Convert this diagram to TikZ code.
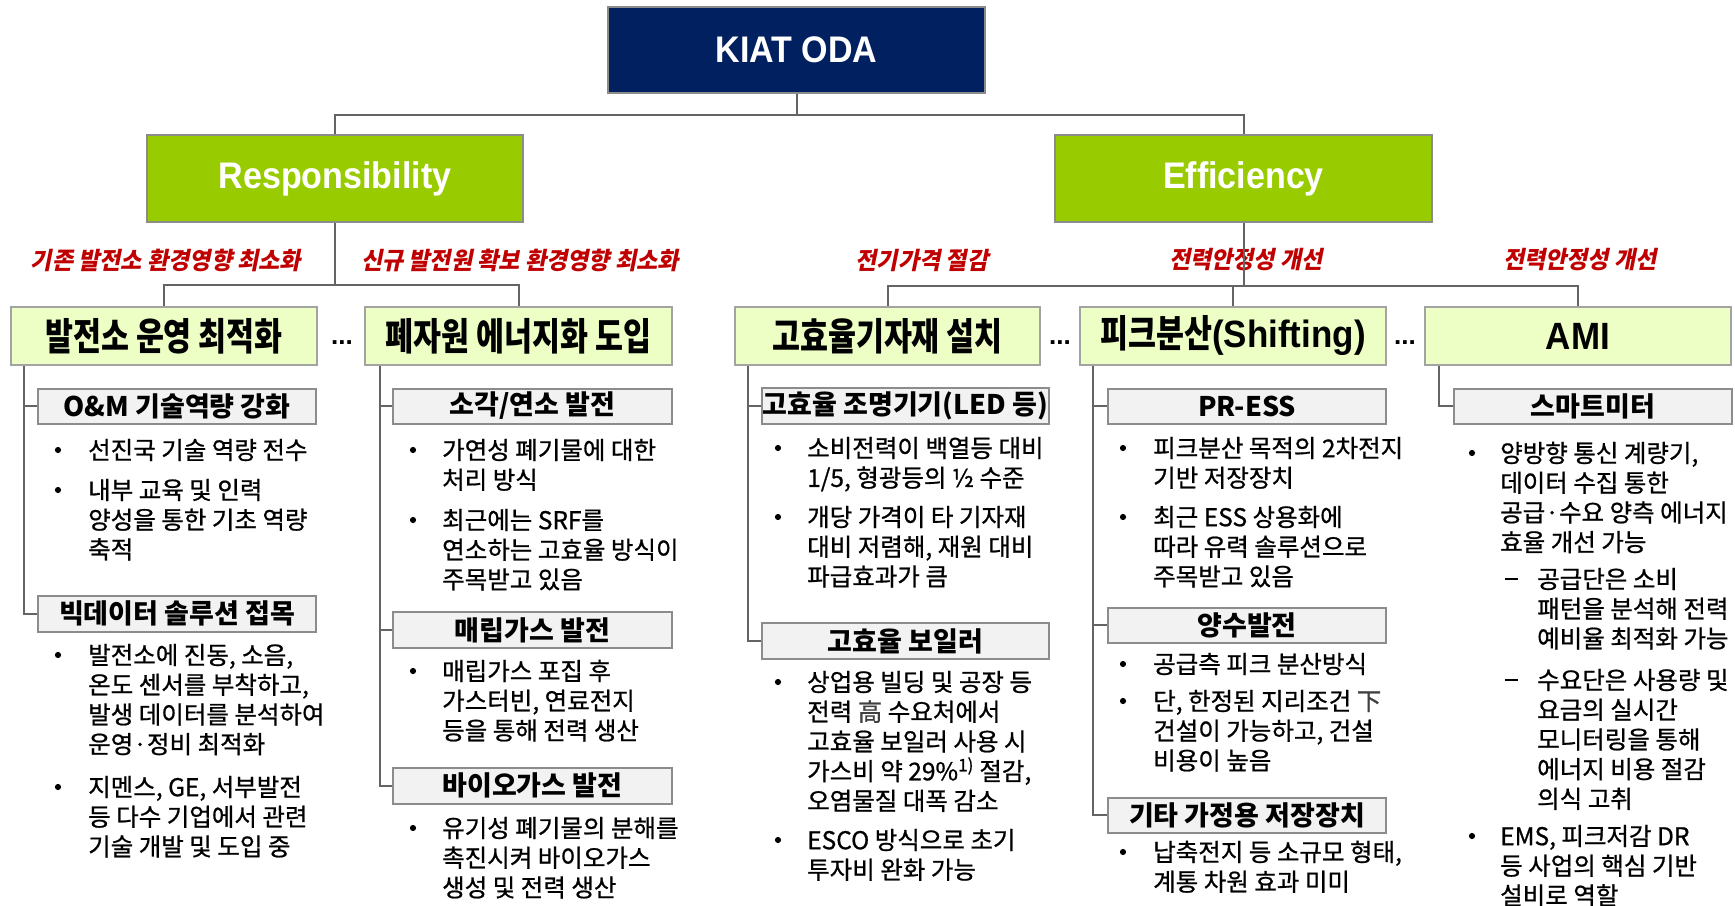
\documentclass[tikz,border=0pt]{standalone}
\usepackage{fontspec}
\setmainfont{Noto Sans CJK KR}
\newfontfamily\kr{Noto Sans CJK KR}
\newfontfamily\bodyfont[FakeBold=0.8]{Noto Sans CJK KR}
\newfontfamily\titlefont[FakeStretch=0.8]{Noto Sans CJK KR}
\newfontfamily\redfont[FakeSlant=0.2,FakeStretch=0.96]{Noto Sans CJK KR}
\newfontfamily\arialb{Liberation Sans}
\newfontfamily\arialc[FakeStretch=0.92]{Liberation Sans}
\usetikzlibrary{calc}
\definecolor{navy}{RGB}{0,32,96}
\definecolor{kgreen}{RGB}{153,204,0}
\definecolor{pale}{RGB}{238,255,198}
\definecolor{subfill}{RGB}{242,242,242}
\definecolor{edgegray}{RGB}{140,140,140}
\definecolor{linegray}{RGB}{100,100,100}
\definecolor{redc}{RGB}{192,0,0}
\newcommand\fs{\rule{0pt}{21pt}}
\newcommand\bitem[5]{\fill (#2,#4) circle (3.1pt);\node[btext] (#1) at (#3,#4-12) {\fs #5};}
\newcommand\ditem[5]{\draw[line width=1.4pt] (#2,#4) -- ++(13,0);\node[btext] (#1) at (#3,#4-12) {\fs #5};}
\tikzset{
  conn/.style={draw=linegray, line width=2pt},
  topbox/.style={draw=edgegray, line width=2pt, fill=navy, text=white, inner sep=0pt,
     font=\arialc\bfseries\fontsize{37}{40}\selectfont},
  greenbox/.style={draw=edgegray, line width=2pt, fill=kgreen, text=white, inner sep=0pt,
     font=\arialc\bfseries\fontsize{37}{40}\selectfont},
  lvbox/.style={draw=edgegray!80, line width=2pt, fill=pale, inner sep=0pt,
     font=\titlefont\bfseries\fontsize{38}{42}\selectfont},
  subbox/.style={draw=edgegray, line width=2pt, fill=subfill, inner sep=0pt,
     font=\kr\bfseries\fontsize{27}{30}\selectfont},
  btext/.style={anchor=north west, align=left, inner sep=0pt,
     font=\bodyfont\fontsize{24.5}{29.7}\selectfont},
  redlab/.style={inner sep=0pt, text=redc, font=\redfont\bfseries\fontsize{24}{28}\selectfont},
  dots/.style={inner sep=0pt, font=\arialb\bfseries\fontsize{26}{28}\selectfont},
}
\begin{document}
\begin{tikzpicture}[x=1pt,y=-1pt]
\useasboundingbox (0,0) rectangle (1735,905);
\fill[white] (0,0) rectangle (1735,905);

% top level
\node[topbox, minimum width=377pt, minimum height=86pt] (kiat) at (796.5,50) {KIAT ODA};
\node[greenbox, minimum width=376pt, minimum height=87pt] (resp) at (335,178.5) {Responsibility};
\node[greenbox, minimum width=377pt, minimum height=87pt] (eff) at (1243.5,178.5) {Efficiency};

% red labels
\node[redlab] (r1) at (166,260) {기존 발전소 환경영향 최소화};
\node[redlab] (r2) at (520,260) {신규 발전원 확보 환경영향 최소화};
\node[redlab] (r3) at (922,260) {전기가격 절감};
\node[redlab] (r4) at (1246,260) {전력안정성 개선};
\node[redlab] (r5) at (1580,260) {전력안정성 개선};

% level 2
\node[lvbox, minimum width=306pt, minimum height=58pt] (l1) at (164,336) {\raisebox{-2pt}{발전소 운영 최적화}};
\node[lvbox, minimum width=307pt, minimum height=58pt] (l2) at (518.5,336) {\raisebox{-2pt}{폐자원 에너지화 도입}};
\node[lvbox, minimum width=305pt, minimum height=58pt] (l3) at (887.5,336) {\raisebox{-2pt}{고효율기자재 설치}};
\node[lvbox, minimum width=306pt, minimum height=58pt] (l4) at (1233,336) {\raisebox{-2pt}{피크분산{\arialc(Shifting)}}};
\node[lvbox, minimum width=306pt, minimum height=58pt] (l5) at (1578,336) {\raisebox{-2pt}{\arialc AMI}};
\node[dots] (d1) at (342,343) {...};
\node[dots] (d2) at (1060,343) {...};
\node[dots] (d3) at (1405,343) {...};

% connectors top
\draw[conn] (kiat.south) -- ++(0,21) -| (resp.north);
\draw[conn] (kiat.south) -- ++(0,21) -| (eff.north);
\draw[conn] (resp.south) -- ++(0,62) -| (l1.north);
\draw[conn] (resp.south) -- ++(0,62) -| (l2.north);
\draw[conn] (eff.south) -- ++(0,63) -| (l3.north);
\draw[conn] (eff.south) -- ++(0,63) -| (l4.north);
\draw[conn] (eff.south) -- ++(0,63) -| (l5.north);

% sub headers
\node[subbox, minimum width=278pt, minimum height=35pt] (h11) at (177,406) {O\&M 기술역량 강화};
\node[subbox, minimum width=278pt, minimum height=36pt] (h12) at (177,613.5) {빅데이터 솔루션 접목};
\node[subbox, minimum width=279pt, minimum height=35pt] (h21) at (532.5,406) {소각/연소 발전};
\node[subbox, minimum width=279pt, minimum height=36pt] (h22) at (532.5,630) {매립가스 발전};
\node[subbox, minimum width=279pt, minimum height=36pt] (h23) at (532.5,785.5) {바이오가스 발전};
\node[subbox, minimum width=287pt, minimum height=36pt] (h31) at (905.5,405.5) {고효율 조명기기(LED 등)};
\node[subbox, minimum width=287pt, minimum height=36pt] (h32) at (905.5,641) {고효율 보일러};
\node[subbox, minimum width=278pt, minimum height=35pt] (h41) at (1247,406) {PR-ESS};
\node[subbox, minimum width=278pt, minimum height=35pt] (h42) at (1247,625) {양수발전};
\node[subbox, minimum width=278pt, minimum height=35pt] (h43) at (1247,815) {기타 가정용 저장장치};
\node[subbox, minimum width=278pt, minimum height=35pt] (h51) at (1593,406) {스마트미터};

% column connectors
\draw[conn] ($(l1.south west)+(14,0)$) |- (h12.west);
\draw[conn] ($(l1.south west)+(14,0)$) |- (h11.west);
\draw[conn] ($(l2.south west)+(16,0)$) |- (h23.west);
\draw[conn] ($(l2.south west)+(16,0)$) |- (h22.west);
\draw[conn] ($(l2.south west)+(16,0)$) |- (h21.west);
\draw[conn] ($(l3.south west)+(14,0)$) |- (h32.west);
\draw[conn] ($(l3.south west)+(14,0)$) |- (h31.west);
\draw[conn] ($(l4.south west)+(14,0)$) |- (h43.west);
\draw[conn] ($(l4.south west)+(14,0)$) |- (h42.west);
\draw[conn] ($(l4.south west)+(14,0)$) |- (h41.west);
\draw[conn] ($(l5.south west)+(15,0)$) |- (h51.west);

% column 1
\bitem{b11}{58}{88}{450}{선진국 기술 역량 전수}
\bitem{b12}{58}{88}{490}{내부 교육 및 인력\\양성을 통한 기초 역량\\축적}
\bitem{b13}{58}{88}{655}{발전소에 진동, 소음,\\온도 센서를 부착하고,\\발생 데이터를 분석하여\\운영·정비 최적화}
\bitem{b14}{58}{88}{787}{지멘스, GE, 서부발전\\등 다수 기업에서 관련\\기술 개발 및 도입 중}

% column 2
\bitem{b21}{413}{442}{450}{가연성 폐기물에 대한\\처리 방식}
\bitem{b22}{413}{442}{520}{최근에는 SRF를\\연소하는 고효율 방식이\\주목받고 있음}
\bitem{b23}{413}{442}{671}{매립가스 포집 후\\가스터빈, 연료전지\\등을 통해 전력 생산}
\bitem{b24}{413}{442}{828}{유기성 폐기물의 분해를\\촉진시켜 바이오가스\\생성 및 전력 생산}

% column 3
\bitem{b31}{778}{807}{448}{소비전력이 백열등 대비\\1/5, 형광등의 ½ 수준}
\bitem{b32}{778}{807}{517}{개당 가격이 타 기자재\\대비 저렴해, 재원 대비\\파급효과가 큼}
\bitem{b33}{778}{807}{682}{상업용 빌딩 및 공장 등\\전력 {\color{black!75}高} 수요처에서\\고효율 보일러 사용 시\\가스비 약 29\%\textsuperscript{1)} 절감,\\오염물질 대폭 감소}
\bitem{b34}{778}{807}{840}{ESCO 방식으로 초기\\투자비 완화 가능}

% column 4
\bitem{b41}{1123}{1153}{448}{피크분산 목적의 2차전지\\기반 저장장치}
\bitem{b42}{1123}{1153}{517}{최근 ESS 상용화에\\따라 유력 솔루션으로\\주목받고 있음}
\bitem{b43}{1123}{1153}{664}{공급측 피크 분산방식}
\bitem{b44}{1123}{1153}{701}{단, 한정된 지리조건 {\color{black!75}下}\\건설이 가능하고, 건설\\비용이 높음}
\bitem{b45}{1123}{1153}{852}{납축전지 등 소규모 형태,\\계통 차원 효과 미미}

% column 5
\bitem{b51}{1472}{1500}{453}{양방향 통신 계량기,\\데이터 수집 통한\\공급·수요 양측 에너지\\효율 개선 가능}
\ditem{b52}{1505}{1537}{579}{공급단은 소비\\패턴을 분석해 전력\\예비율 최적화 가능}
\ditem{b53}{1505}{1537}{680}{수요단은 사용량 및\\요금의 실시간\\모니터링을 통해\\에너지 비용 절감\\의식 고취}
\bitem{b54}{1472}{1500}{836}{EMS, 피크저감 DR\\등 사업의 핵심 기반\\설비로 역할}
\end{tikzpicture}
\end{document}
